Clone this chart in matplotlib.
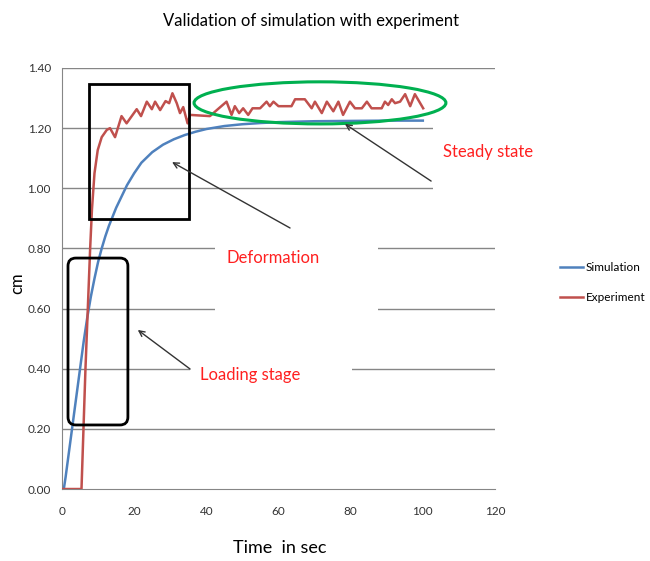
import matplotlib.pyplot as plt
from matplotlib.patches import Rectangle, FancyBboxPatch, Ellipse

plt.rcParams['font.family'] = ['Lato', 'DejaVu Sans']

# simulation curve (time in sec, displacement in cm)
sim_t = [0.5, 1, 2, 3, 4, 5, 6, 7, 8, 9, 10, 11, 12, 13, 14, 15, 16, 18, 20, 22, 25,
         28, 31, 34, 37, 40, 45, 50, 55, 60, 70, 80, 90, 100]
sim_cm = [0.00, 0.04, 0.13, 0.22, 0.31, 0.40, 0.49, 0.57, 0.64, 0.70, 0.755, 0.80, 0.84,
          0.875, 0.905, 0.935, 0.96, 1.01, 1.05, 1.085, 1.12, 1.145, 1.163, 1.177, 1.188,
          1.197, 1.207, 1.213, 1.217, 1.220, 1.223, 1.224, 1.225, 1.225]

# experiment curve
exp_t = [0, 5.4, 6.5, 7.8, 8.3, 9.0, 9.9, 11.0, 12.4, 13.3, 14.7, 16.5, 17.9, 20.7, 21.9,
         23.5, 24.9, 25.8, 27.2, 28.7, 29.7, 30.6, 31.8, 32.7, 33.6, 34.8, 35.5, 41.0,
         42.9, 45.6, 47.0, 47.9, 49.1, 50.2, 51.6, 52.8, 54.9, 56.7, 57.6, 58.6, 60.0,
         63.6, 64.6, 67.3, 69.2, 70.1, 72.0, 73.4, 75.2, 76.6, 77.9, 79.8, 81.2, 83.1,
         84.5, 85.8, 88.6, 89.5, 90.4, 91.4, 92.3, 93.7, 95.1, 96.5, 97.8, 100.1]
exp_cm = [0, 0, 0.40, 0.80, 0.93, 1.05, 1.127, 1.17, 1.194, 1.20, 1.17, 1.24, 1.216, 1.263,
          1.24, 1.288, 1.263, 1.288, 1.26, 1.29, 1.283, 1.316, 1.283, 1.25, 1.27, 1.216,
          1.244, 1.24, 1.26, 1.288, 1.244, 1.273, 1.25, 1.266, 1.244, 1.266, 1.266, 1.288,
          1.273, 1.288, 1.273, 1.273, 1.296, 1.296, 1.266, 1.288, 1.25, 1.288, 1.256,
          1.288, 1.244, 1.288, 1.266, 1.266, 1.288, 1.266, 1.266, 1.288, 1.277, 1.296,
          1.283, 1.288, 1.313, 1.273, 1.313, 1.266]

x_ticks = [0, 20, 40, 60, 80, 100, 120]
y_ticks = [0.0, 0.2, 0.4, 0.6, 0.8, 1.0, 1.2, 1.4]

grid_c = "#868686"
red_txt = "#FF2020"

fig = plt.figure(figsize=(6.5, 5.61), dpi=100)
ax = fig.add_axes([0.0954, 0.1283, 0.6661, 0.7505])
ax.set_xlim(0, 120)
ax.set_ylim(0, 1.4)

for yv in y_ticks[1:]:
    ax.axhline(yv, color=grid_c, lw=1, zorder=0)

# white text boxes that hide the gridlines
for (x0, x1, y0, y1) in [(42.4, 87.6, 0.55, 0.86), (35.5, 80.4, 0.33, 0.45), (102.8, 120, 0.95, 1.23)]:
    ax.add_patch(Rectangle((x0, y0), x1 - x0, y1 - y0, facecolor="white", edgecolor="none", zorder=1))

ax.plot(sim_t, sim_cm, color="#4F81BD", lw=1.8, label="Simulation", zorder=3)
ax.plot(exp_t, exp_cm, color="#C0504D", lw=1.8, label="Experiment", zorder=3)

ax.add_patch(Rectangle((7.5, 0.898), 27.7, 0.449, fill=False, edgecolor="black", lw=2, zorder=4))
ax.add_patch(FancyBboxPatch((1.66, 0.213), 16.6, 0.555, boxstyle="round,pad=0,rounding_size=2.2",
                            mutation_aspect=0.012, fill=False, edgecolor="black", lw=2, zorder=4))
ax.add_patch(Ellipse((71.5, 1.284), 69.8, 0.14, fill=False, edgecolor="#00B050", lw=2.2, zorder=4))

arrow = dict(arrowstyle="->", color="#333333", lw=1, shrinkA=0, shrinkB=0)
ax.annotate("", xy=(30.5, 1.087), xytext=(63.2, 0.868), arrowprops=arrow, zorder=5)
ax.annotate("", xy=(78.4, 1.214), xytext=(102.3, 1.024), arrowprops=arrow, zorder=5)
ax.annotate("", xy=(21.0, 0.529), xytext=(35.5, 0.399), arrowprops=arrow, zorder=5)

ax.text(58.5, 0.768, "Deformation", color=red_txt, fontsize=12, ha="center", va="center", zorder=5)
ax.text(118, 1.12, "Steady state", color=red_txt, fontsize=12, ha="center", va="center",
        clip_on=False, zorder=5)
ax.text(52.1, 0.379, "Loading stage", color=red_txt, fontsize=12, ha="center", va="center", zorder=5)

for side in ["top", "right"]:
    ax.spines[side].set_visible(False)
for side in ["left", "bottom"]:
    ax.spines[side].set_color(grid_c)
ax.set_xticks(x_ticks)
ax.set_yticks(y_ticks)
ax.set_yticklabels([f"{v:.2f}" for v in y_ticks])
ax.tick_params(axis="both", length=0, labelsize=8.5, colors="#333333")
ax.tick_params(axis="x", pad=12)
ax.tick_params(axis="y", pad=8)

fig.text(0.478, 0.962, "Validation of simulation with experiment", fontsize=12, ha="center", va="center")
fig.text(0.43, 0.023, "Time  in sec", fontsize=13, ha="center", va="center")
fig.text(0.026, 0.495, "cm", fontsize=12, rotation=90, ha="center", va="center")

fig.legend(loc="center left", bbox_to_anchor=(0.845, 0.496), frameon=False, fontsize=8.5,
           handlelength=2.0, labelspacing=1.6, handletextpad=0.2)

fig.savefig("out.png", dpi=100)
